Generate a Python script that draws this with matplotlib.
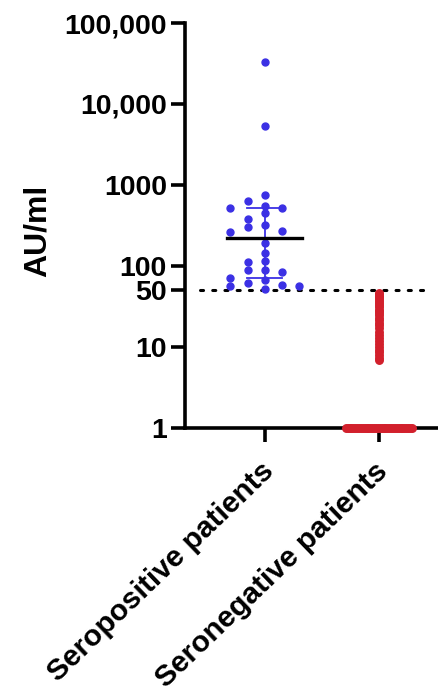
import numpy as np
import matplotlib
matplotlib.use("Agg")
import matplotlib.pyplot as plt
from matplotlib.ticker import FixedLocator, FixedFormatter, NullLocator
from matplotlib.transforms import ScaledTranslation

# ---- data (AU/ml) ----
categories = ["Seropositive patients", "Seronegative patients"]

seropositive = [33000, 5400, 753, 633, 555, 515, 515, 447, 381, 321, 306,
                273, 265, 191, 144, 115, 113, 89, 89, 85, 72, 67, 62, 59,
                57, 56, 52]
# median and interquartile range of the seropositive group
pos_median = 224
pos_q1 = 72
pos_q3 = 520

seronegative_detect = [47, 45, 43, 41, 39, 37, 35, 33, 31, 29, 27.5, 26, 24.5,
                       23, 21.5, 20, 18.5, 17, 15.5, 14, 13, 12, 11, 10,
                       9.3, 8.6, 8.0, 7.4, 7.0]
seronegative_floor = [1.0] * 36

cutoff = 50
yticks = [1, 10, 50, 100, 1000, 10000, 100000]
yticklabels = ["1", "10", "50", "100", "1000", "10,000", "100,000"]

BLUE = "#3B30E4"
RED = "#D2202C"
FONT = "Liberation Sans"

W, H = 439, 693
fig = plt.figure(figsize=(W / 100, H / 100), dpi=100)
ax = fig.add_axes([185 / W, (H - 428) / H, 1 - 185 / W, 405 / H])
ax.set_yscale("log")
ax.set_ylim(1, 100000)
ax.set_xlim(0.3, 0.3 + 254 / 114)

# ---- swarm layout for the seropositive dots ----
def swarm_offsets(values, xc, slot_px=17.3, min_sep_px=7.5):
    order = np.argsort(values)[::-1]
    px_per_x = ax.transData.transform((1, 1))[0] - ax.transData.transform((0, 1))[0]
    slot = slot_px / px_per_x
    ypix = {i: ax.transData.transform((xc, values[i]))[1] for i in order}
    placed = {}
    xs = np.zeros(len(values))
    cand = [0, -1, 1, -2, 2, -3, 3]
    for i in order:
        for c in cand:
            ok = all(abs(ypix[i] - ypix[j]) >= min_sep_px
                     for j in placed.get(c, []))
            if ok:
                placed.setdefault(c, []).append(i)
                xs[i] = xc + c * slot
                break
    return xs

pos_x = swarm_offsets(seropositive, 1)
ax.plot(pos_x, seropositive, "o", ms=5.0, color=BLUE, mec=BLUE, zorder=3,
        clip_on=False)

# median line and IQR bars
ax.plot([1, 1], [pos_q1, pos_q3], color=BLUE, lw=1.3, zorder=4)
for q in (pos_q1, pos_q3):
    ax.plot([1 - 0.153, 1 + 0.153], [q, q], color=BLUE, lw=1.3, zorder=4)
ax.plot([1 - 0.33, 1 + 0.33], [pos_median, pos_median], color="black",
        lw=2.4, zorder=5)

# seronegative: measurable values in one column, floor values spread out
ax.plot([2] * len(seronegative_detect), seronegative_detect, "o", ms=5.4,
        color=RED, mec=RED, zorder=3, clip_on=False)
n = len(seronegative_floor)
floor_x = np.linspace(2 - 0.29, 2 + 0.29, n)
ax.plot(floor_x, seronegative_floor, "o", ms=5.4, color=RED, mec=RED,
        zorder=6, clip_on=False)

# positivity cutoff
ax.plot([0.43, 2.47], [cutoff, cutoff], color="black", lw=2.2,
        linestyle=(0, (1, 3)), dash_capstyle="round", zorder=2)

# ---- axes styling ----
for s in ("top", "right"):
    ax.spines[s].set_visible(False)
for s in ("left", "bottom"):
    ax.spines[s].set_linewidth(2.6)
    ax.spines[s].set_capstyle("projecting")

ax.yaxis.set_major_locator(FixedLocator(yticks))
ax.yaxis.set_major_formatter(FixedFormatter(yticklabels))
ax.yaxis.set_minor_locator(NullLocator())
ax.set_xticks([1, 2])
ax.set_xticklabels(categories)
ax.tick_params(axis="both", width=2.6, length=10, direction="out")
ax.tick_params(axis="y", pad=3.0)
ax.tick_params(axis="x", pad=18)
for lab in ax.get_yticklabels():
    lab.set_fontfamily(FONT)
    lab.set_fontweight("bold")
    lab.set_fontsize(20.5)
shift = ScaledTranslation(4.5 / 100, 0, fig.dpi_scale_trans)
for lab in ax.get_xticklabels():
    lab.set_fontfamily(FONT)
    lab.set_fontweight("bold")
    lab.set_fontsize(21.5)
    lab.set_rotation(44)
    lab.set_ha("right")
    lab.set_va("center")
    lab.set_rotation_mode("anchor")
    lab.set_transform(lab.get_transform() + shift)

fig.text(38 / W, 1 - 231 / H, "AU/ml", rotation=90, ha="center", va="center",
         fontfamily=FONT, fontweight="bold", fontsize=23)

fig.savefig("out.png", dpi=100, facecolor="white")
